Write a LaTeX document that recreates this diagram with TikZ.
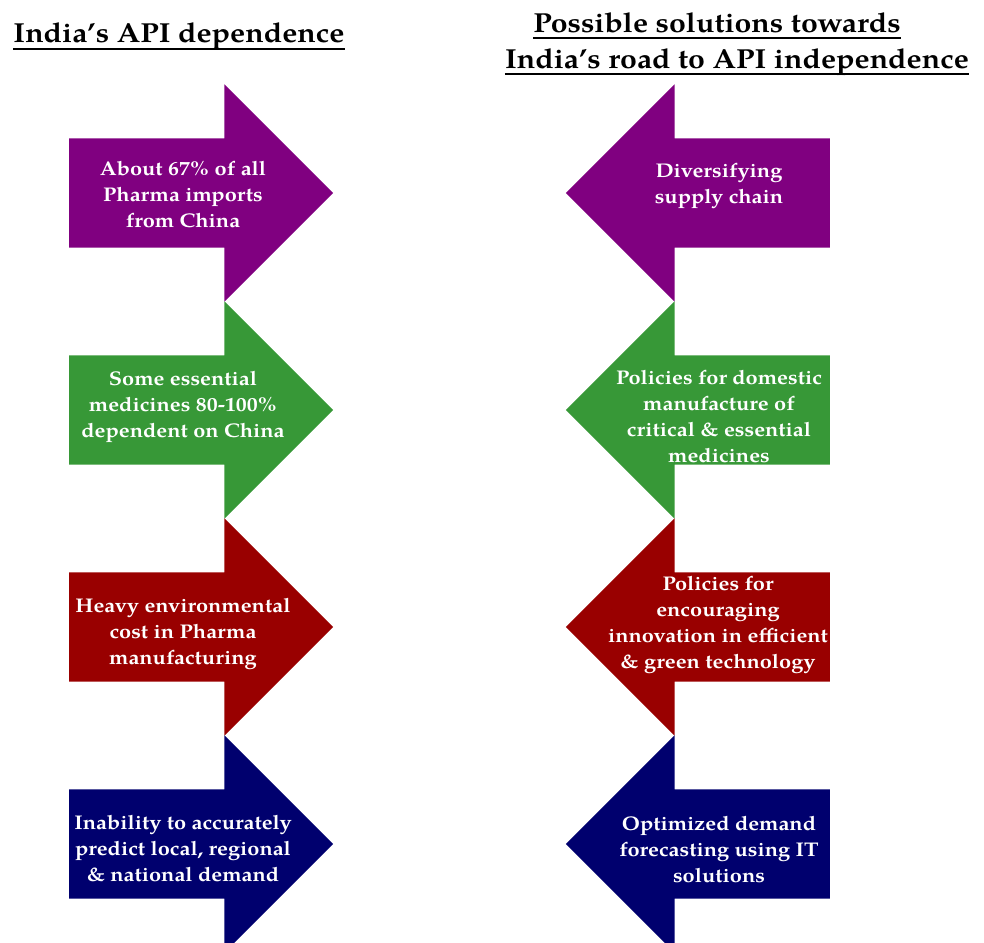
\documentclass[tikz,border=0pt]{standalone}
\usepackage{fontspec}
\setmainfont{TeX Gyre Pagella}[FakeStretch=1.1]
\usetikzlibrary{shapes.arrows,positioning}
\definecolor{apipurple}{RGB}{128,0,128}
\definecolor{apigreen}{RGB}{55,152,55}
\definecolor{apired}{RGB}{153,0,0}
\definecolor{apinavy}{RGB}{0,0,110}
\tikzset{
fatarrow/.style = {single arrow, fill=#1, draw=none, inner xsep=0pt, inner ysep=54.5pt, minimum height=264pt, single arrow head extend=54pt, anchor=tail},
toright/.style = {fatarrow=#1},
toleft/.style = {fatarrow=#1, shape border rotate=180},
arrowtext/.style = {text=white, align=center, font=\bfseries\fontsize{19.8}{26}\selectfont},
heading/.style = {inner sep=0pt, anchor=base, font=\bfseries\fontsize{27.5}{35}\selectfont},
underline/.style = {line width=1.5pt}
}
\begin{document}
\begin{tikzpicture}[x=1pt, y=-1pt]
    \useasboundingbox (0,0) rectangle (984,942);
    % titles
    \node [heading] (dep) at (179,43) {India’s API dependence};
    \node [heading] (sol1) at (717,33) {Possible solutions towards};
    \node [heading] (sol2) at (737,68) {India’s road to API independence};
    \draw [underline] ([yshift=-6pt]dep.base west) -- ([yshift=-6pt]dep.base east);
    \draw [underline] ([yshift=-5pt]sol1.base west) -- ([yshift=-5pt]sol1.base east);
    \draw [underline] ([yshift=-6pt]sol2.base west) -- ([yshift=-6pt]sol2.base east);
    % left column
    \node [toright=apipurple] (l1) at (69,193) {};
    \node [toright=apigreen] (l2) at (69,410) {};
    \node [toright=apired] (l3) at (69,627) {};
    \node [toright=apinavy] (l4) at (69,844) {};
    \node [arrowtext, xshift=114pt, yshift=-2pt] (t1) at (l1.tail) {About 67\% of all\\Pharma imports\\from China};
    \node [arrowtext, xshift=114pt, yshift=3pt] (t2) at (l2.tail) {Some essential\\medicines 80-100\%\\dependent on China};
    \node [arrowtext, xshift=114pt, yshift=-7pt] (t3) at (l3.tail) {Heavy environmental\\cost in Pharma\\manufacturing};
    \node [arrowtext, xshift=114pt, yshift=-5pt] (t4) at (l4.tail) {Inability to accurately\\predict local, regional\\\& national demand};
    % right column
    \node [toleft=apipurple] (r1) at (830,193) {};
    \node [toleft=apigreen] (r2) at (830,410) {};
    \node [toleft=apired] (r3) at (830,627) {};
    \node [toleft=apinavy] (r4) at (830,844) {};
    \node [arrowtext, xshift=-111pt, yshift=6.5pt] (s1) at (r1.tail) {Diversifying\\supply chain};
    \node [arrowtext, xshift=-111pt, yshift=-6.5pt] (s2) at (r2.tail) {Policies for domestic\\manufacture of\\critical \& essential\\medicines};
    \node [arrowtext, xshift=-112pt, yshift=2.5pt] (s3) at (r3.tail) {Policies for\\encouraging\\innovation in efficient\\\& green technology};
    \node [arrowtext, xshift=-111pt, yshift=-5.5pt] (s4) at (r4.tail) {Optimized demand\\forecasting using IT\\solutions};
\end{tikzpicture}
\end{document}
